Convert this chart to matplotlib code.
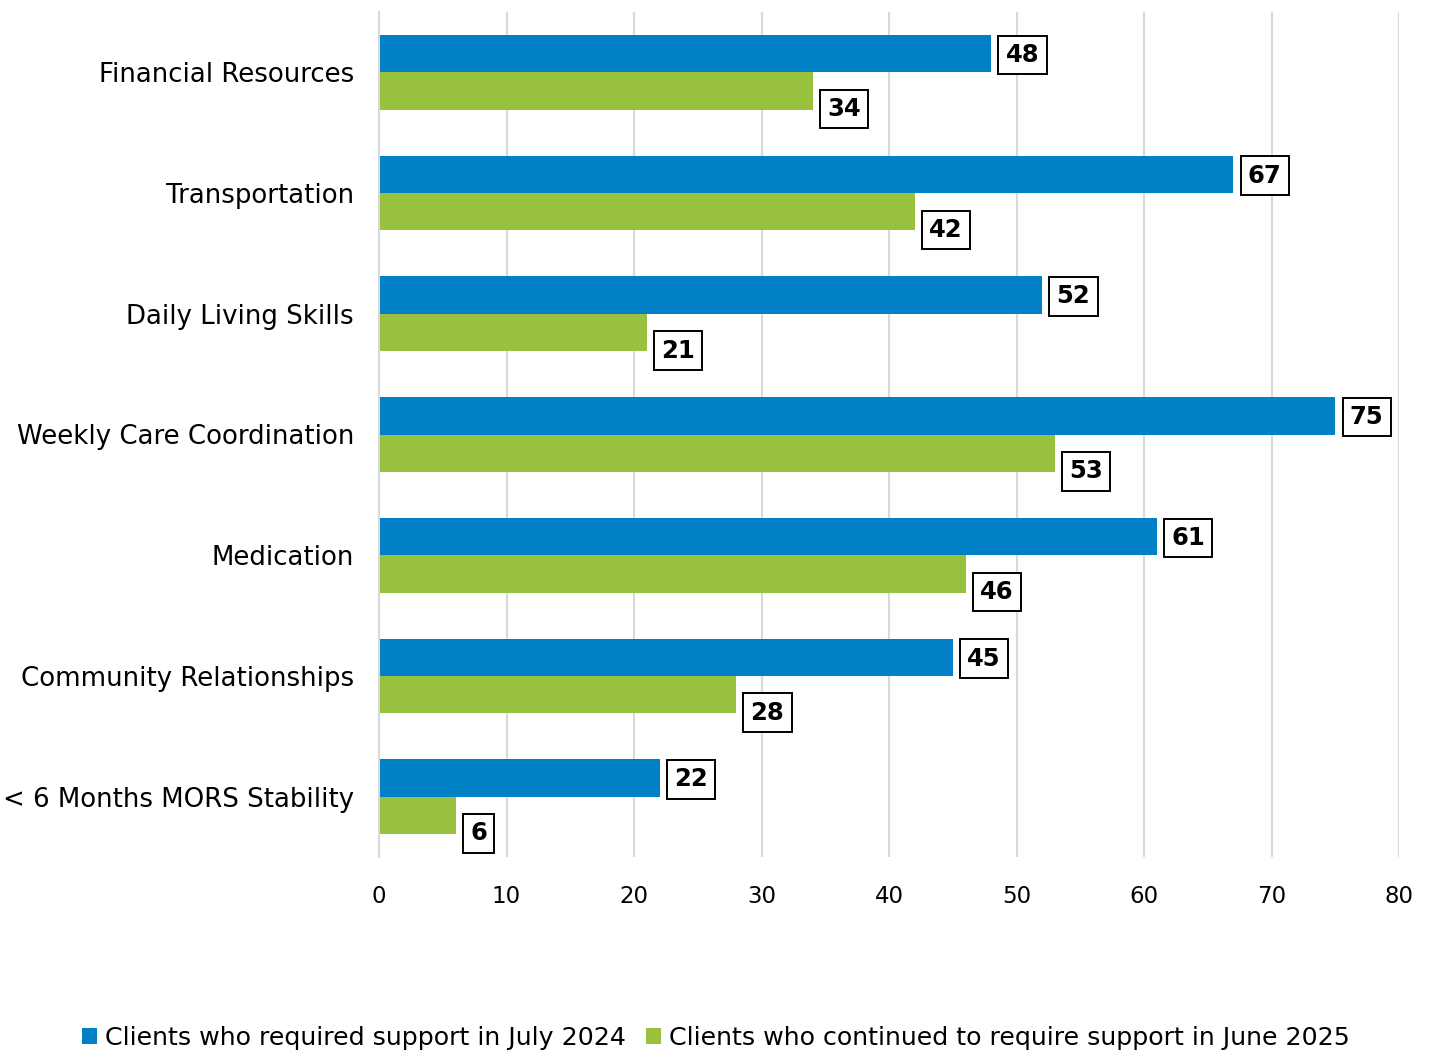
import matplotlib
matplotlib.use("Agg")
import matplotlib.pyplot as plt
import numpy as np

categories = ["Financial Resources", "Transportation", "Daily Living Skills",
              "Weekly Care Coordination", "Medication", "Community Relationships",
              "< 6 Months MORS Stability"]
july_2024 = [48, 67, 52, 75, 61, 45, 22]
june_2025 = [34, 42, 21, 53, 46, 28, 6]
series_names = ["Clients who required support in July 2024",
                "Clients who continued to require support in June 2025"]
xticks = [0, 10, 20, 30, 40, 50, 60, 70, 80]

blue = "#0081C6"
green = "#98C23D"

plt.rcParams['font.family'] = ['DejaVu Sans']

fig = plt.figure(figsize=(14.32, 10.52), dpi=100)
ax = fig.add_axes([379/1432, 1 - 857/1052, (1399-379)/1432, (857-12)/1052])

y = np.arange(len(categories))
h = 0.31
b1 = ax.barh(y - h/2, july_2024, height=h, color=blue, zorder=2, label=series_names[0])
b2 = ax.barh(y + h/2, june_2025, height=h, color=green, zorder=2, label=series_names[1])

box = dict(boxstyle="square,pad=0.3", fc="white", ec="black", lw=1.4)
for yi, v in zip(y, july_2024):
    ax.annotate(str(v), xy=(v, yi - h/2), xytext=(10.5, -1), textcoords="offset points",
                ha="left", va="center", fontsize=17.5, fontweight="bold", bbox=box, zorder=3)
for yi, v in zip(y, june_2025):
    ax.annotate(str(v), xy=(v, yi + h/2), xytext=(10.5, -13), textcoords="offset points",
                ha="left", va="center", fontsize=17.5, fontweight="bold", bbox=box, zorder=3)

ax.set_xlim(0, 80)
ax.set_ylim(len(categories) - 0.5, -0.5)
ax.set_xticks(xticks)
ax.set_xticklabels([str(t) for t in xticks], fontsize=16.5)
ax.set_yticks(y)
ax.set_yticklabels(categories, fontsize=18.7)
ax.tick_params(axis='both', length=0)
ax.tick_params(axis='x', pad=20)
ax.tick_params(axis='y', pad=18)
ax.xaxis.grid(True, color="#D9D9D9", lw=1.5, zorder=0)
ax.set_axisbelow(True)
for s in ["top", "right", "bottom"]:
    ax.spines[s].set_visible(False)
ax.spines["left"].set_color("#D9D9D9")
ax.spines["left"].set_linewidth(1.5)

fig.legend(handles=[b1, b2], labels=series_names, loc="lower center",
           bbox_to_anchor=(0.5, -0.02), ncol=2, frameon=False, fontsize=18.2,
           handlelength=0.6, handleheight=0.6, handletextpad=0.3, columnspacing=0.8)

fig.savefig("out.png", dpi=100)
